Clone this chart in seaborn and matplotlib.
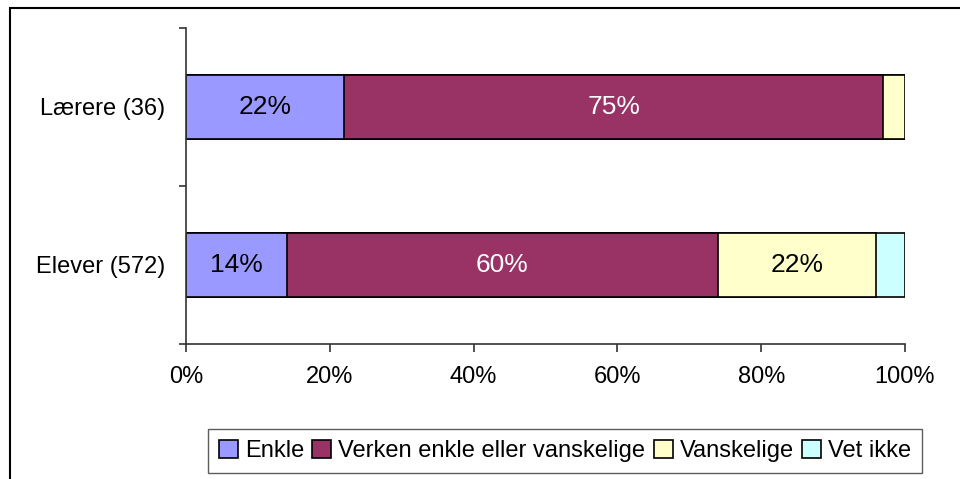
import pandas as pd
import seaborn as sns
import matplotlib.pyplot as plt
from matplotlib.patches import Rectangle, Patch

groups = ["Lærere (36)", "Elever (572)"]
categories = ["Enkle", "Verken enkle eller vanskelige", "Vanskelige", "Vet ikke"]
enkle = [22, 14]
verken = [75, 60]
vanskelige = [3, 22]
vet_ikke = [0, 4]
colors = ["#9999FF", "#993366", "#FFFFCC", "#CCFFFF"]
label_colors = ["black", "white", "black", "black"]


def main():
    sns.set_style("white")
    plt.rcParams["font.family"] = ["Liberation Sans", "DejaVu Sans"]
    plt.rcParams["text.color"] = "black"
    plt.rcParams["xtick.color"] = "black"
    plt.rcParams["ytick.color"] = "black"

    df = pd.DataFrame({"group": groups, "Enkle": enkle,
                       "Verken enkle eller vanskelige": verken,
                       "Vanskelige": vanskelige, "Vet ikke": vet_ikke})
    cum = df[categories].cumsum(axis=1)

    fig = plt.figure(figsize=(9.6, 4.79), dpi=100)
    ax = fig.add_axes([186 / 960, 1 - 344 / 479, 719 / 960, 316 / 479])

    # stacked bars: draw cumulative totals from the longest down
    for cat, col in reversed(list(zip(categories, colors))):
        sns.barplot(x=cum[cat], y=df["group"], orient="h", color=col,
                    saturation=1, edgecolor="black", linewidth=1.2,
                    width=0.4, ax=ax)

    # segment labels (skip the thin ones)
    for i in range(len(groups)):
        left = 0
        for cat, tc in zip(categories, label_colors):
            v = df.loc[i, cat]
            if v >= 10:
                ax.text(left + v / 2, i, f"{v}%", ha="center", va="center",
                        fontsize=19, color=tc)
            left += v

    ax.set_xlim(0, 100)
    ax.set_ylim(1.5, -0.5)
    ax.set_xticks(range(0, 101, 20))
    ax.set_xticklabels([f"{t}%" for t in range(0, 101, 20)], fontsize=17)
    ax.set_yticks([-0.5, 0.5, 1.5])
    ax.set_yticklabels([])
    ax.set_yticks([0, 1], minor=True)
    ax.set_yticklabels(groups, minor=True, fontsize=17)
    ax.tick_params(axis="x", direction="out", length=6, width=1.2,
                   color="#333333", pad=10, bottom=True)
    ax.tick_params(axis="y", which="major", direction="out", length=5,
                   width=1.2, color="#333333", left=True)
    ax.tick_params(axis="y", which="minor", length=0, pad=15)
    ax.set_xlabel("")
    ax.set_ylabel("")
    for s in ["top", "right"]:
        ax.spines[s].set_visible(False)
    for s in ["left", "bottom"]:
        ax.spines[s].set_color("#333333")
        ax.spines[s].set_linewidth(1.2)

    handles = [Patch(facecolor=c, edgecolor="black", linewidth=1.2) for c in colors]
    leg = fig.legend(handles, categories, loc="center",
                     bbox_to_anchor=(565 / 960, 1 - 451 / 479), ncol=4,
                     fontsize=17, frameon=True, fancybox=False,
                     handlelength=0.8, handleheight=0.8, handletextpad=0.3,
                     columnspacing=0.35, borderpad=0.45, borderaxespad=0)
    leg.get_frame().set_edgecolor("#333333")
    leg.get_frame().set_linewidth(1.0)

    # outer chart border
    fig.patches.append(Rectangle((10 / 960, -0.05), 1.0, 1 - 8 / 479 + 0.05,
                                 transform=fig.transFigure, fill=False,
                                 edgecolor="black", linewidth=1.5))

    fig.savefig("out.png", dpi=100)


if __name__ == '__main__':
    main()
